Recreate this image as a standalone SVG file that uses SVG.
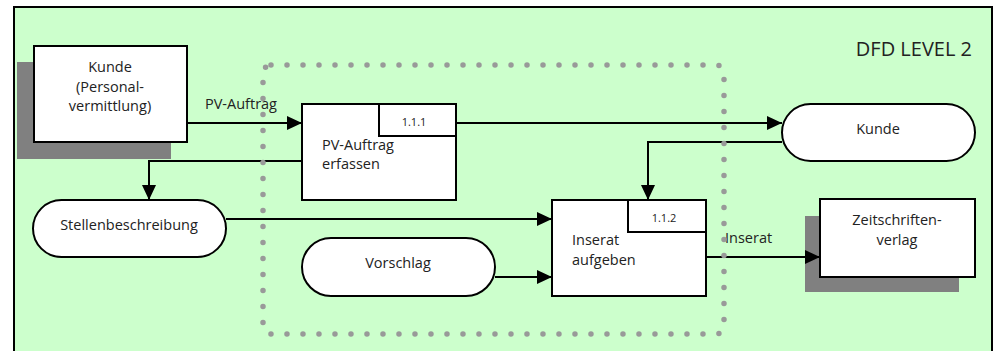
<svg xmlns="http://www.w3.org/2000/svg" width="1004" height="351" viewBox="0 0 1004 351">
<defs>
<marker id="arr" markerUnits="userSpaceOnUse" markerWidth="16" markerHeight="16" refX="15" refY="7" orient="auto">
<path d="M0,0 L15,7 L0,14 Z" fill="#000"/>
</marker>
<style>
text{font-family:"Open Sans","Liberation Sans",sans-serif;fill:#222}
.lbl{font-size:14.5px}
.num{font-size:11px}
.box{fill:#fff;stroke:#000;stroke-width:2}
.shadow{fill:#808080}
.conn{fill:none;stroke:#000;stroke-width:2;marker-end:url(#arr)}
</style>
</defs>
<rect x="14" y="7" width="978" height="360" fill="#CCFFCC" stroke="#000" stroke-width="2"/>
<text x="972" y="56" font-size="20" text-anchor="end">DFD LEVEL 2</text>

<g id="kunde-pv">
<rect class="shadow" x="17" y="62" width="154" height="97"/>
<rect class="box" x="34" y="46" width="153" height="96"/>
<text class="lbl" text-anchor="middle"><tspan x="110" y="72">Kunde</tspan><tspan x="110" y="92">(Personal-</tspan><tspan x="110" y="111">vermittlung)</tspan></text>
</g>

<g id="p111">
<rect class="box" x="302" y="104" width="154" height="96"/>
<rect class="box" x="379" y="104" width="77" height="32"/>
<text class="num" x="414" y="126" text-anchor="middle">1.1.1</text>
<text class="lbl"><tspan x="322" y="150">PV-Auftrag</tspan><tspan x="322" y="169">erfassen</tspan></text>
</g>

<g id="kunde">
<rect class="box" x="782" y="104" width="193" height="57" rx="28.5"/>
<text class="lbl" x="878" y="134" text-anchor="middle">Kunde</text>
</g>

<g id="stellen">
<rect class="box" x="33" y="200" width="193" height="57" rx="28.5"/>
<text class="lbl" x="129" y="230" text-anchor="middle">Stellenbeschreibung</text>
</g>

<g id="vorschlag">
<rect class="box" x="302" y="238" width="193" height="58" rx="29"/>
<text class="lbl" x="398" y="268" text-anchor="middle">Vorschlag</text>
</g>

<g id="p112">
<rect class="box" x="552" y="200" width="154" height="96"/>
<rect class="box" x="628" y="200" width="78" height="32"/>
<text class="num" x="664" y="222" text-anchor="middle">1.1.2</text>
<text class="lbl"><tspan x="572" y="245">Inserat</tspan><tspan x="572" y="265">aufgeben</tspan></text>
</g>

<g id="zeitschriften">
<rect class="shadow" x="805" y="216" width="154" height="76"/>
<rect class="box" x="820" y="199" width="155" height="78"/>
<text class="lbl" text-anchor="middle"><tspan x="897" y="225">Zeitschriften-</tspan><tspan x="897" y="245">verlag</tspan></text>
</g>

<g id="connectors">
<path class="conn" d="M187,123 L302,123"/>
<path class="conn" d="M456,123 L782,123"/>
<path class="conn" d="M782,142 L648,142 L648,200"/>
<path class="conn" d="M302,161 L149,161 L149,200"/>
<path class="conn" d="M226,219 L552,219"/>
<path class="conn" d="M495,277 L552,277"/>
<path class="conn" d="M706,257 L820,257"/>
<text class="lbl" x="205" y="109">PV-Auftrag</text>
<text class="lbl" x="725" y="243">Inserat</text>
</g>

<g id="boundary">
<rect x="263" y="65" width="461" height="269" rx="8" fill="none" stroke="#999" stroke-width="5.5" stroke-linecap="round" stroke-dasharray="0 16"/>
</g>
</svg>
